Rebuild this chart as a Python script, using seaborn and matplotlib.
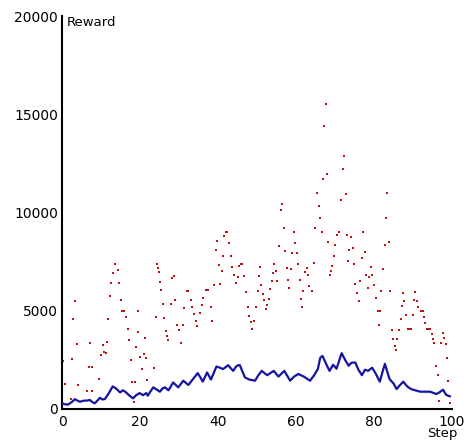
import numpy as np
import pandas as pd
import matplotlib
matplotlib.use("Agg")
import matplotlib.pyplot as plt
import seaborn as sns

# ---- data ----
blue_step = [0, 0.5, 1.5, 2.5, 3.3, 4, 4.6, 5.5, 6.5, 7.1, 7.8, 8.4, 9.2, 9.7, 10.4, 11, 12, 13, 13.8,
             14.9, 15.6, 16.2, 17.2, 18.2, 19, 19.9, 20.8, 21.6, 22, 22.7, 23.4, 24.2, 25.1, 25.8, 26.4,
             27.3, 28.5, 29.8, 31.1, 32.4, 33.5, 34.8, 35.5, 36.1, 37.2, 38.2, 39.6, 40.5, 41.3, 42.6,
             43.1, 43.9, 44.6, 45.2, 45.6, 46.9, 48, 49.5, 50.3, 51.2, 52.6, 54.3, 55.5, 57, 58.5, 59.5,
             60.6, 62, 63.6, 64.6, 65.6, 66.2, 66.8, 67.7, 68.6, 69.5, 70.4, 71.7, 72.6, 73.5, 74.2,
             75.2, 76.0, 76.9, 77.7, 78.5, 79.5, 80.3, 81.5, 82.2, 82.8, 83.4, 84, 85, 85.8, 86.6, 87.5,
             88.5, 89.5, 90.6, 91.8, 93, 94.4, 95.2, 96, 96.8, 97.7, 98.5, 99.5]
blue_reward = [300, 250, 220, 350, 500, 420, 370, 420, 430, 460, 350, 290, 450, 570, 480, 510, 800, 1150,
               1050, 845, 950, 880, 700, 540, 700, 810, 700, 810, 675, 900, 1100, 1000, 880, 1050, 1100,
               950, 1350, 1100, 1440, 1220, 1500, 1825, 1600, 1390, 1860, 1500, 2160, 2100, 2030, 2230,
               2110, 1940, 2150, 2230, 2230, 1605, 1500, 1440, 1700, 1940, 1720, 1940, 1650, 1940, 1440,
               1650, 1780, 1650, 1440, 1700, 2030, 2600, 2700, 2300, 1940, 2250, 2050, 2840, 2500, 2200,
               2350, 2370, 2000, 1720, 2000, 1940, 2100, 1850, 1390, 1900, 2300, 1900, 1520, 1300, 1015,
               1200, 1390, 1150, 1015, 950, 880, 880, 880, 820, 760, 850, 980, 720, 640]

red_step = [0.3, 0.8, 1.2, 1.5, 1.8, 2.0, 2.2, 2.5, 2.9, 3.3, 3.8, 4.0, 4.3, 4.7, 5.1, 5.5, 5.9, 6.2,
            6.5, 6.8, 7.2, 7.6, 7.8, 8.2, 8.6, 9.0, 9.3, 9.6, 10.0, 10.4, 10.8, 11.2, 11.5, 11.9, 12.3,
            12.6, 13.0, 13.5, 13.7, 14.4, 14.7, 15.1, 15.5, 15.7, 15.9, 16.4, 16.8, 17.2, 17.7, 18.0,
            18.5, 18.7, 19.1, 19.4, 19.6, 20.1, 20.4, 20.9, 21.2, 21.6, 21.9, 22.6, 23.0, 23.4, 23.7,
            24.0, 24.4, 24.6, 24.9, 25.1, 25.4, 25.8, 26.2, 26.6, 26.8, 27.3, 28.0, 28.3, 28.7, 29.0,
            29.4, 30.0, 30.5, 30.9, 31.3, 32.0, 32.2, 32.4, 33.0, 33.4, 33.8, 34.3, 34.7, 35.4, 35.8,
            36.2, 36.9, 37.1, 37.4, 38.1, 38.5, 39.1, 39.5, 39.8, 40.2, 40.5, 40.9, 41.2, 41.5, 42.0,
            42.2, 42.9, 43.3, 43.7, 44.1, 44.5, 45.0, 45.5, 45.9, 46.1, 46.7, 47.2, 47.6, 47.9, 48.4,
            48.7, 49.2, 49.7, 50.3, 50.6, 50.8, 51.1, 51.5, 51.8, 52.2, 52.6, 53.1, 53.4, 53.8, 54.2,
            54.4, 54.8, 55.2, 55.7, 56.2, 56.5, 56.9, 57.3, 57.6, 57.9, 58.3, 58.7, 59.1, 59.5, 59.8,
            60.2, 60.6, 60.9, 61.2, 61.5, 61.9, 62.3, 62.7, 63.0, 63.4, 64.0, 64.6, 65.0, 65.5, 65.9,
            66.1, 66.6, 66.8, 67.2, 67.6, 67.9, 68.2, 68.6, 69.0, 69.3, 69.7, 70.1, 70.5, 70.9, 71.1,
            71.6, 72.1, 72.4, 72.7, 73.1, 73.4, 73.7, 74.0, 74.5, 74.8, 75.2, 75.7, 76.1, 76.5, 76.9,
            77.3, 77.6, 78.0, 78.4, 78.8, 79.3, 79.6, 80.1, 80.5, 80.9, 81.2, 81.5, 81.9, 82.3, 82.8,
            83.0, 83.4, 83.8, 84.2, 84.6, 84.9, 85.3, 85.7, 86.0, 86.4, 86.8, 87.1, 87.5, 87.8, 88.2,
            88.6, 89.0, 89.5, 90.0, 90.3, 90.6, 90.9, 91.3, 92.0, 92.5, 92.8, 93.2, 93.5, 94.0, 94.4,
            94.9, 95.1, 95.5, 95.9, 96.3, 96.7, 97.3, 97.6, 98.0, 98.4, 98.7, 99.1, 99.6]
red_reward = [2450, 1270, 0, 0, 0, 0, 500, 2535, 4560, 5490, 3300, 1200, 0, 0, 0, 0, 0, 0,
              930, 2160, 3350, 2160, 930, 0, 0, 0, 0, 1520, 2740, 3245, 2900, 2840, 3410, 4600, 5745,
              6390, 6900, 7390, 7390, 7050, 6390, 5540, 4985, 4985, 4985, 4700, 4056, 3500, 2500, 1385,
              340, 1385, 3140, 4985, 3900, 2650, 2040, 2800, 3600, 2600, 1500, 0, 0, 0, 2063,
              4700, 7390, 7200, 6980, 6470, 6040, 5320, 4640, 3970, 3720, 3520, 5320, 6680, 6760, 5540,
              4300, 4000, 3380, 4260, 5155, 6030, 6030, 6030, 5540, 5200, 4820, 4480, 4220, 4900, 5300,
              5660, 6050, 6050, 6050, 5200, 4500, 6290, 8110, 8530, 7350, 6340, 7000, 7810, 8820, 9000,
              9000, 8450, 7810, 7230, 6800, 6390, 6700, 7260, 7390, 7390, 6760, 5970, 5200, 4730, 4430,
              4090, 4500, 5200, 6000, 6760, 7230, 6290, 5830, 5570, 5070, 5300, 5600, 6100, 6500, 6930,
              7390, 7000, 6500, 8280, 10140, 10440, 9210, 8030, 7180, 6560, 6170, 7100, 7940, 9000, 8450,
              7940, 7390, 6540, 5610, 5190, 6030, 6960, 7180, 6800, 6250, 6030, 7440, 9210, 10990, 10340,
              9720, 8990, 11700, 14400, 15510, 11960, 8480, 6840, 7000, 7300, 7810, 8365, 8870, 8990, 8990,
              10650, 12220, 12890, 10940, 8870, 7520, 8110, 8760, 8200, 7400, 6340, 5920, 5490, 6500, 7690,
              8990, 7980, 6840, 6170, 6700, 7230, 6800, 6290, 5660, 4985, 4260, 5000, 6000, 7100, 8365,
              9720, 10990, 8480, 6000, 4020, 3580, 3210, 3010, 3550, 4000, 4560, 5240, 5880, 5500, 4770,
              4090, 4090, 4090, 4770, 5540, 5950, 5500, 5200, 4985, 4985, 4700, 4400, 4090, 4090, 4090,
              3800, 3580, 3350, 2165, 1725, 420, 3350, 3890, 3635, 3300, 2570, 1435, 304]

x_ticks = [0, 20, 40, 60, 80, 100]
y_ticks = [0, 5000, 10000, 15000, 20000]

blue_df = pd.DataFrame({"Step": blue_step, "Reward": blue_reward})
red_df = pd.DataFrame({"Step": red_step, "Reward": red_reward})

sns.set_style("white")
plt.rcParams["font.family"] = ["DejaVu Sans"]

fig = plt.figure(figsize=(4.68, 4.41), dpi=100)
ax = fig.add_axes([0.1325, 0.0726, 0.8333, 0.891])

sns.scatterplot(data=red_df, x="Step", y="Reward", ax=ax, color="#b81414",
                marker="s", s=3.2, linewidth=0, zorder=2)
sns.lineplot(data=blue_df, x="Step", y="Reward", ax=ax, color="#1414a0",
             linewidth=1.6, zorder=3)

ax.set_xlim(0, 100)
ax.set_ylim(0, 20000)
ax.set_xticks(x_ticks)
ax.set_yticks(y_ticks)
ax.set_xticklabels([str(t) for t in x_ticks])
ax.set_yticklabels([str(t) for t in y_ticks])
ax.set_xlabel("")
ax.set_ylabel("")

for side in ["top", "right"]:
    ax.spines[side].set_visible(False)
for side in ["left", "bottom"]:
    ax.spines[side].set_color("black")
    ax.spines[side].set_linewidth(1.5)

ax.tick_params(axis="both", direction="in", length=6, width=1.0, colors="black",
               labelsize=10)
ax.tick_params(axis="x", pad=4)
ax.tick_params(axis="y", pad=3)

ax.text(0.012, 1.0, "Reward", transform=ax.transAxes, ha="left", va="top",
        fontsize=9.5, color="black")
ax.text(1.015, -0.062, "Step", transform=ax.transAxes, ha="right", va="center",
        fontsize=9.5, color="black", clip_on=False)

fig.savefig("out.png", dpi=100, facecolor="white")
